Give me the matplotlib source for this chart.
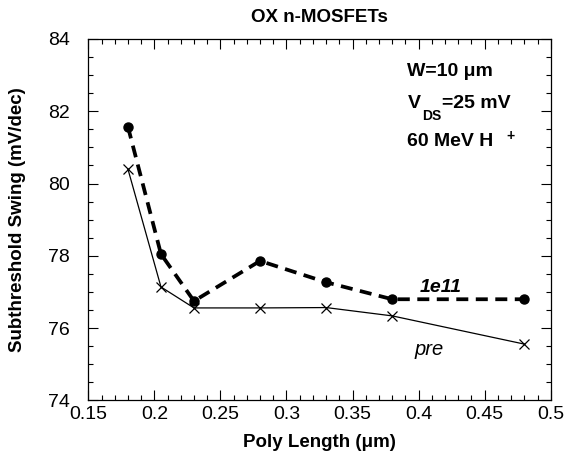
import numpy as np
import matplotlib.pyplot as plt
from matplotlib.ticker import MultipleLocator, FuncFormatter

plt.rcParams['font.family'] = ['Liberation Sans', 'DejaVu Sans']

# poly length (um)
length = [0.18, 0.205, 0.23, 0.28, 0.33, 0.38, 0.48]
# subthreshold swing (mV/dec)
swing_pre = [80.4, 77.14, 76.56, 76.56, 76.57, 76.34, 75.56]
swing_1e11 = [81.57, 78.05, 76.75, 77.86, 77.27, 76.8, 76.8]

fig = plt.figure(figsize=(5.66, 4.63), dpi=100)
ax = fig.add_axes([0.156, 0.135, 0.817, 0.781])

ax.plot(length, swing_pre, color="black", lw=0.9, marker="x",
        markersize=7, markeredgewidth=0.9)
ax.plot(length, swing_1e11, color="black", lw=2.7, ls=(0, (3.2, 2.0)),
        marker="o", markersize=6.5)

ax.set_xlim(0.15, 0.5)
ax.set_ylim(74, 84)
ax.xaxis.set_major_locator(MultipleLocator(0.05))
ax.xaxis.set_minor_locator(MultipleLocator(0.01))
ax.yaxis.set_major_locator(MultipleLocator(2))
ax.yaxis.set_minor_locator(MultipleLocator(0.5))
ax.xaxis.set_major_formatter(FuncFormatter(lambda v, p: "%g" % round(v, 3)))
ax.tick_params(which="both", direction="in", top=True, right=True,
               labelsize=14, width=0.8)
ax.tick_params(which="major", length=7.5)
ax.tick_params(axis="y", which="major", pad=13)
ax.tick_params(axis="x", which="major", pad=4)
ax.tick_params(which="minor", length=3.5)
for s in ax.spines.values():
    s.set_linewidth(0.9)

ax.set_xlabel("Poly Length (\u03bcm)", fontsize=13.5, fontweight="bold")
ax.xaxis.set_label_coords(0.5, -0.092)
ax.set_ylabel("Subthreshold Swing (mV/dec)", fontsize=13.5, fontweight="bold")
ax.yaxis.set_label_coords(-0.135, 0.5)
ax.set_title("OX n-MOSFETs", fontsize=13.5, fontweight="bold", pad=12)

ax.text(0.3916, 82.98, "W=10 \u03bcm", fontsize=14, fontweight="bold")
ax.text(0.3916, 82.08, "V", fontsize=14, fontweight="bold")
ax.text(0.4025, 81.75, "DS", fontsize=10, fontweight="bold")
ax.text(0.4175, 82.08, "=25 mV", fontsize=14, fontweight="bold")
ax.text(0.3916, 81.03, "60 MeV H", fontsize=14, fontweight="bold")
ax.text(0.4665, 81.2, "+", fontsize=10, fontweight="bold")
ax.text(0.401, 77.01, "1e11", fontsize=14, fontweight="bold", style="italic")
ax.text(0.397, 75.27, "pre", fontsize=14.5, style="italic")

plt.savefig("out.png", dpi=100)
